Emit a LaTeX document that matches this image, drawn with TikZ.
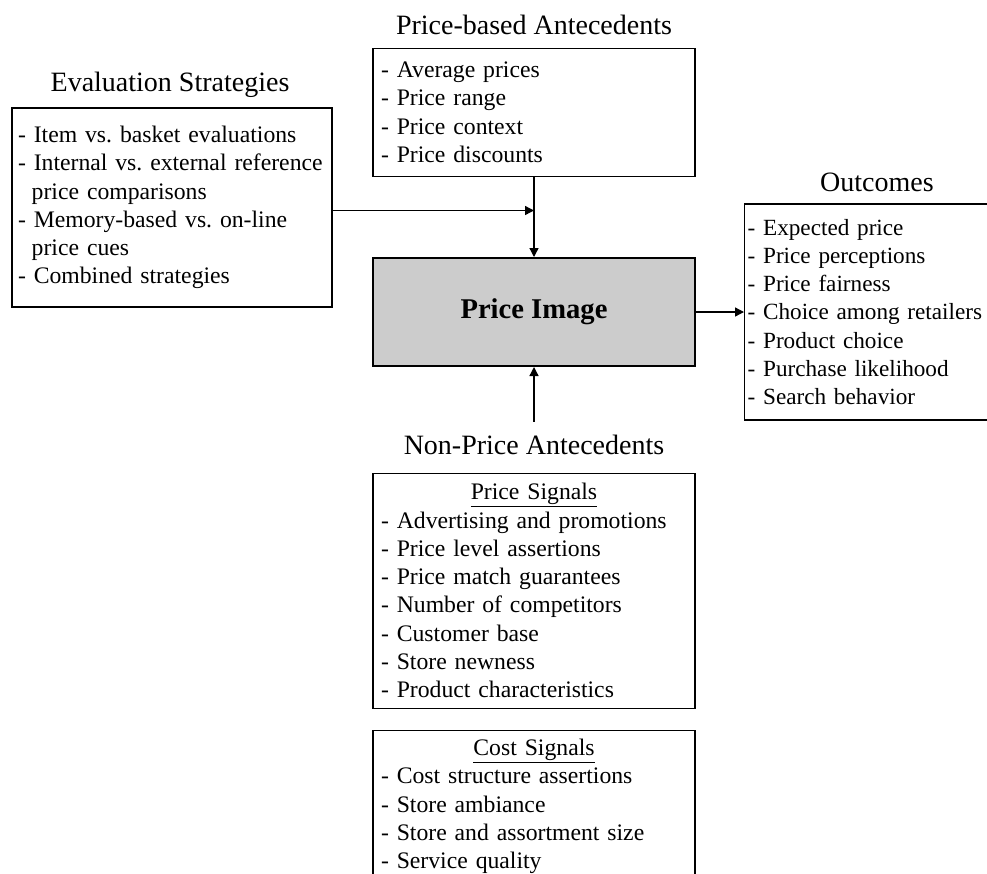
\documentclass[tikz,border=0pt]{standalone}
\usepackage{fontspec}
\setmainfont{Liberation Serif}
\usetikzlibrary{arrows.meta, positioning}
\frenchspacing
\hyphenpenalty=10000

\begin{document}
\begin{tikzpicture}[
  x=1pt, y=-1pt,
  >={Triangle[length=9pt,width=9pt]},
  % List boxes
  listbox/.style={
    rectangle, draw, line width=1.3pt, align=left,
    inner xsep=8pt, inner ysep=0pt,
    font=\fontsize{23.7}{28.3}\selectfont
  },
  % Central block
  corebox/.style={
    rectangle, draw, line width=2pt, fill=black!20,
    minimum width=322pt, minimum height=108pt,
    font=\fontsize{28.6}{34}\selectfont\bfseries
  },
  % Group titles
  headtext/.style={font=\fontsize{28}{33}\selectfont, inner sep=0pt},
  % Arrow style
  flow/.style={line width=1.3pt, ->}
]
\useasboundingbox (0,0) rectangle (987,873);
\clip (0,0) rectangle (987,873);

% === CENTRE ===
\node[corebox] (img) at (534,312) {Price Image};

% === PRICE-BASED ANTECEDENTS (TOP) ===
\node[listbox, text width=306pt, minimum height=128pt, above=80pt of img] (pb)
  {- Average prices\\- Price range\\- Price context\\- Price discounts};
\node[headtext] (pbtitle) at (534,25) {Price-based Antecedents};

% === EVALUATION STRATEGIES (LEFT) ===
\node[listbox, text width=308pt, inner xsep=6pt, minimum height=199pt] (eval) at (172,207.5)
  {- Item vs. basket evaluations\\- Internal vs. external reference\\
   \hspace*{0.58em}price comparisons\\- Memory-based vs. on-line\\
   \hspace*{0.58em}price cues\\- Combined strategies};
\node[headtext] (evtitle) at (170,85) {Evaluation Strategies};

% === OUTCOMES (RIGHT) ===
\node[listbox, text width=250pt, inner xsep=3pt, minimum height=216pt,
  font=\fontsize{23.2}{28.3}\selectfont, right=48pt of img] (out)
  {- Expected price\\- Price perceptions\\- Price fairness\\- Choice among retailers\\
   - Product choice\\- Purchase likelihood\\- Search behavior};
\node[headtext] (outtitle) at (877,182) {Outcomes};

% === NON-PRICE ANTECEDENTS (BOTTOM) ===
\node[headtext, inner ysep=13pt] (nptitle) at (534,445) {Non-Price Antecedents};
\node[listbox, text width=306pt, minimum height=235pt, below=4.5pt of nptitle] (psig)
  {\makebox[\linewidth]{\underline{Price Signals}}\\- Advertising and promotions\\
   - Price level assertions\\- Price match guarantees\\- Number of competitors\\
   - Customer base\\- Store newness\\- Product characteristics};
\node[listbox, text width=306pt, minimum height=152pt, below=21pt of psig] (cost)
  {\makebox[\linewidth]{\underline{Cost Signals}}\\- Cost structure assertions\\
   - Store ambiance\\- Store and assortment size\\- Service quality};

% === ARROWS ===
\draw[flow] (pb) -- (img);
\draw[flow] ([yshift=-3pt]eval.east) -- ([yshift=-3pt]eval.east -| pb.south);
\draw[flow] (img) -- (out);
\draw[flow] (nptitle) -- (img);

\end{tikzpicture}
\end{document}
